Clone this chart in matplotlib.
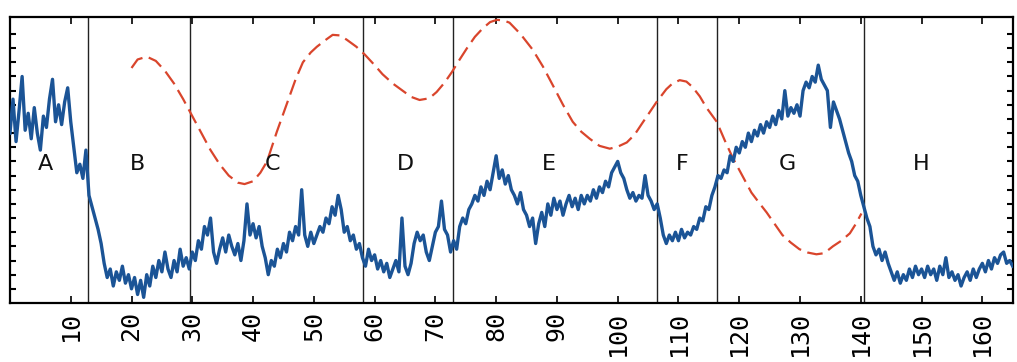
import matplotlib.pyplot as plt
import numpy as np

# blue trace, one value every 0.5 units from 0 to 165
trace_x = np.arange(0, 165.01, 0.5)
trace_y = [
    60, 72, 57, 68, 80, 61, 67, 58, 69, 60,
    54, 66, 62, 72, 79, 64, 70, 63, 71, 76,
    64, 55, 46, 49, 44, 54, 38, 34, 30, 26,
    21, 14, 9, 12, 6, 11, 8, 13, 7, 10,
    5, 9, 3, 8, 2, 10, 6, 13, 9, 15,
    11, 18, 12, 9, 15, 11, 19, 13, 16, 12,
    18, 15, 22, 19, 27, 24, 30, 18, 14, 19,
    23, 18, 24, 20, 17, 21, 15, 22, 35, 24,
    28, 23, 27, 20, 16, 10, 15, 13, 19, 16,
    21, 18, 25, 22, 27, 24, 40, 24, 20, 25,
    21, 24, 27, 25, 30, 28, 34, 31, 38, 33,
    25, 27, 22, 24, 19, 21, 16, 13, 19, 15,
    17, 12, 15, 11, 14, 9, 12, 15, 11, 30,
    13, 10, 14, 21, 25, 22, 24, 18, 15, 20,
    25, 27, 36, 26, 24, 18, 22, 19, 27, 30,
    28, 33, 35, 38, 36, 41, 38, 43, 40, 46,
    52, 44, 47, 42, 45, 40, 38, 35, 39, 33,
    31, 27, 30, 21, 28, 32, 27, 35, 31, 37,
    33, 36, 31, 35, 38, 34, 37, 33, 38, 35,
    38, 36, 40, 37, 41, 39, 43, 41, 46, 48,
    50, 46, 44, 40, 37, 39, 36, 38, 37, 45,
    38, 36, 33, 35, 30, 24, 21, 24, 22, 25,
    22, 26, 23, 25, 24, 27, 26, 30, 29, 34,
    33, 38, 41, 45, 44, 47, 46, 52, 50, 55,
    53, 57, 55, 60, 57, 61, 59, 63, 60, 64,
    62, 66, 63, 68, 65, 75, 66, 69, 67, 70,
    66, 75, 78, 76, 80, 78, 84, 79, 77, 75,
    62, 71, 68, 65, 61, 57, 53, 50, 45, 43,
    38, 34, 30, 27, 20, 17, 19, 15, 18, 14,
    11, 8, 11, 7, 10, 8, 12, 9, 13, 10,
    12, 9, 13, 10, 12, 8, 13, 10, 16, 9,
    11, 8, 10, 6, 9, 11, 8, 12, 9, 12,
    14, 11, 15, 12, 16, 14, 17, 18, 14, 15,
    13,
]

# red dashed curve
curve_x = [20, 21, 22.5, 24, 25.5, 27, 28.5, 30, 31.5, 33, 34.5, 36, 37.5, 38.6,
           40, 41.2, 42.3, 43.9, 45, 46, 47, 48.2, 49.5, 50.5, 52, 53.1, 54.3,
           55.4, 57, 58.4, 60, 61.3, 63, 64.6, 66, 67.4, 69, 70.2, 71.5, 72.7,
           74, 75.2, 76.5, 77.8, 79, 80.1, 81.2, 82.2, 84, 86, 87.7, 89.3, 91,
           92.6, 94, 95.4, 97, 98.7, 100, 101.5, 102.8, 104.1, 105.3, 106.4, 108,
           109, 110.2, 111.3, 112.3, 113.5, 114.6, 116.3, 117.6, 118.9, 120.5,
           122, 123.3, 124.5, 125.8, 127.1, 128.5, 129.9, 131.3, 132.7, 134,
           135.4, 136.8, 138.2, 139.2, 140.1]
curve_y = [83, 86, 87, 85.5, 82, 77.5, 72, 66, 60, 54, 49, 45, 42.5, 42,
           43, 46, 50, 60.4, 67, 73, 79, 85, 88.5, 90.5, 93, 94.7, 94.5,
           93, 90.5, 87.7, 84, 80.8, 77.5, 75, 72.8, 71.7, 72.3, 74.5, 77.8, 81.5,
           86, 90, 94, 97, 99.2, 100, 99.8, 99, 95, 89.5, 83.5, 77, 70,
           64, 60.5, 58, 55.5, 54.5, 55.2, 56.7, 59.5, 63.7, 67.5, 71, 75.5,
           77.5, 78.7, 78.2, 76.3, 73, 69, 64, 57.5, 51.4, 45,
           39, 35.3, 32, 28, 24, 21.3, 19, 17.8, 17.2, 17.6,
           20, 22, 24.6, 28, 31.6]

# region boundaries and labels
bounds = [12.8, 29.7, 58.1, 72.9, 106.4, 116.3, 140.5]
region_names = ['A', 'B', 'C', 'D', 'E', 'F', 'G', 'H']
region_x = [5.8, 21, 43.2, 65, 88.7, 110.7, 128, 150]
xticks = list(range(10, 161, 10))

fig = plt.figure(figsize=(10.17, 3.62), dpi=100)
ax = fig.add_axes([0.0098, 0.163, 0.986, 0.790])

for b in bounds:
    ax.axvline(b, color='#222222', lw=1.0, zorder=1)

ax.plot(trace_x, trace_y, color='#1b5496', lw=2.4, zorder=3)
ax.plot(curve_x, curve_y, color='#d9452c', lw=1.6, dashes=(7, 3), zorder=2)

for name, rx in zip(region_names, region_x):
    ax.text(rx, 49, name, ha='center', va='center', fontsize=16,
            family='DejaVu Sans', color='#111111')

ax.set_xlim(0, 165)
ax.set_ylim(0, 101)
ax.set_xticks(xticks)
ax.set_xticklabels([str(t) for t in xticks], rotation=90, family='DejaVu Sans Mono',
                   fontsize=18)
ax.set_yticks(np.arange(5, 100, 5))
ax.set_yticklabels([])
ax.tick_params(axis='x', direction='in', length=5, width=1.2, top=True, pad=6)
ax.tick_params(axis='y', direction='in', length=4, width=1.5, right=True)
for s in ax.spines.values():
    s.set_linewidth(1.6)

fig.savefig('out.png', dpi=100)
